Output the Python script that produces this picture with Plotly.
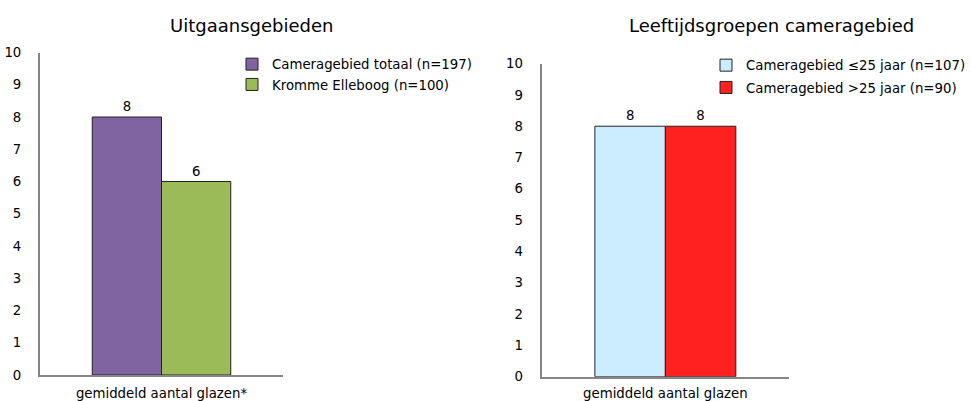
import plotly.graph_objects as go

categories_left = ["gemiddeld aantal glazen*"]
categories_right = ["gemiddeld aantal glazen"]
series_left = ["Cameragebied totaal (n=197)", "Kromme Elleboog (n=100)"]
values_left = [8, 6]
colors_left = ["#8064A2", "#9BBB59"]
series_right = ["Cameragebied \u226425 jaar (n=107)", "Cameragebied >25 jaar (n=90)"]
values_right = [8, 8]
colors_right = ["#CCECFF", "#FF2020"]
y_ticks = list(range(0, 11))

FONT = "DejaVu Sans"
FS = 13.3
fig = go.Figure()
for i, (name, v, c) in enumerate(zip(series_left, values_left, colors_left)):
    fig.add_trace(go.Bar(x=categories_left, y=[v], name=name, marker=dict(color=c, line=dict(color="#222222", width=1)),
                         text=[str(v)], textposition="outside", textfont=dict(size=FS, color="#000", family=FONT),
                         cliponaxis=False, xaxis="x", yaxis="y", legend="legend", legendgroup="L%d" % i))
for i, (name, v, c) in enumerate(zip(series_right, values_right, colors_right)):
    fig.add_trace(go.Bar(x=categories_right, y=[v], name=name, marker=dict(color=c, line=dict(color="#222222", width=1)),
                         text=[str(v)], textposition="outside", textfont=dict(size=FS, color="#000", family=FONT),
                         cliponaxis=False, xaxis="x2", yaxis="y2", legend="legend2", legendgroup="R%d" % i))

W, H = 971, 401
axis_common = dict(showgrid=False, zeroline=False, showline=True, linecolor="#868686", linewidth=2,
                   ticks="", automargin=False, tickfont=dict(size=FS, color="#000", family=FONT))
fig.update_layout(
    template="none",
    width=W, height=H, margin=dict(l=0, r=0, t=0, b=0, pad=0),
    paper_bgcolor="white", plot_bgcolor="white",
    font=dict(family=FONT, size=FS, color="#000"),
    barmode="group", bargap=0.43, bargroupgap=0,
    xaxis=dict(domain=[40 / W, 283 / W], anchor="y", ticklabelstandoff=5, **axis_common),
    yaxis=dict(domain=[26 / H, 348.5 / H], anchor="x", range=[0, 10], tickvals=y_ticks, ticklabelstandoff=14, **axis_common),
    xaxis2=dict(domain=[541.7 / W, 789 / W], anchor="y2", ticklabelstandoff=3, **axis_common),
    yaxis2=dict(domain=[24.3 / H, 337.4 / H], anchor="x2", range=[0, 10], tickvals=y_ticks, ticklabelstandoff=14, **axis_common),
    legend=dict(x=232 / W, y=1 - 49 / H, xanchor="left", yanchor="top", bgcolor="rgba(0,0,0,0)",
                font=dict(size=FS, family=FONT), itemwidth=30, tracegroupgap=0),
    legend2=dict(x=1, y=1 - 50 / H, xanchor="right", yanchor="top", bgcolor="rgba(0,0,0,0)",
                 font=dict(size=FS, family=FONT), itemwidth=30, tracegroupgap=2),
    annotations=[
        dict(text="Uitgaansgebieden", x=251 / W, y=1 - 25 / H, xref="paper", yref="paper", showarrow=False,
             font=dict(size=18, family=FONT, color="#000"), xanchor="center", yanchor="middle"),
        dict(text="Leeftijdsgroepen cameragebied", x=771 / W, y=1 - 25 / H, xref="paper", yref="paper", showarrow=False,
             font=dict(size=18, family=FONT, color="#000"), xanchor="center", yanchor="middle"),
    ],
)
fig.write_html("out.html", config={"displayModeBar": False},
               post_script="document.body.style.margin='0';document.body.style.overflow='hidden';")
